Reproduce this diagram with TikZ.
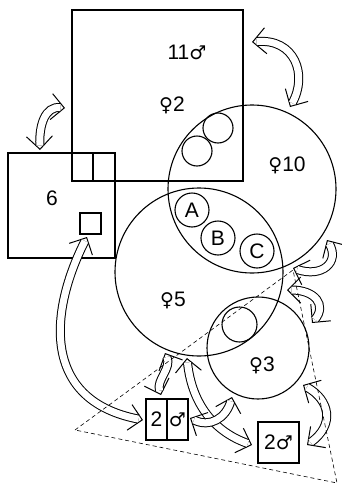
\documentclass[tikz,border=0pt]{standalone}
\usepackage{fontspec}
\setmainfont{Liberation Sans}
\newfontfamily\symf{DejaVu Sans}
\usetikzlibrary{arrows.meta}
\tikzset{
  shp/.style={draw, line width=1.1pt, inner sep=0pt, outer sep=0pt},
  lbl/.style={font=\fontsize{21}{24}\selectfont, inner sep=0pt},
  hshaft/.style={line width=1pt, double=white, double distance=7pt, shorten <=4.5pt, shorten >=4.5pt},
  htips/.style={line width=1pt, white,
     {Straight Barb[color=black,length=13pt,width=26pt]}-{Straight Barb[color=black,length=13pt,width=26pt]}},
  dline/.style={line width=0.6pt, dash pattern=on 4pt off 3pt}
}
\newcommand\hollowarr[1]{\draw[htips] #1; \draw[hshaft] #1;}
\newcommand\fem{{\symf\fontsize{19}{22}\selectfont ♀}}
\newcommand\mal{{\symf\fontsize{19}{22}\selectfont ♂}}
\begin{document}
\begin{tikzpicture}[x=1pt,y=-1pt]
\useasboundingbox (0,0) rectangle (341,485);
% boxes
\node[shp, minimum width=171pt, minimum height=171pt] (sq) at (157.5,95.5) {};
\node[shp, minimum width=107pt, minimum height=105pt] (b6) at (61.5,205.5) {};
\coordinate (dv1) at (93,153);
\coordinate (dv2) at (93,181);
\draw[line width=1.1pt] (dv1) -- (dv2);
\node[shp, minimum size=21pt] (sm) at (90.5,223.5) {};
% circles
\node[shp, circle, minimum size=168pt] (f10) at (252,189) {};
\node[shp, circle, minimum size=168pt] (f5) at (199,272) {};
\node[shp, circle, minimum size=102pt] (f3) at (258,348) {};
\node[shp, circle, minimum size=30pt] (c1) at (218,128) {};
\node[shp, circle, minimum size=30pt] (c2) at (197,151) {};
\node[shp, circle, minimum size=35pt] (c3) at (239.5,324.5) {};
\node[shp, circle, minimum size=34pt, lbl] (nA) at (192,210) {A};
\node[shp, circle, minimum size=34pt, lbl] (nB) at (218,238) {B};
\node[shp, circle, minimum size=34pt, lbl] (nC) at (257,251) {C};
% labels
\node[lbl] (t11) at (187,52) {11\mal};
\node[lbl] (t2) at (172,105) {\fem2};
\node[lbl] (t10) at (287,165) {\fem10};
\node[lbl] (t6) at (52,198) {6};
\node[lbl] (t5) at (173,300) {\fem5};
\node[lbl] (t3) at (262,365) {\fem3};
% small boxes
\node[shp, minimum width=42pt, minimum height=41pt] (bx1) at (167,419.5) {};
\draw[line width=1.1pt] (bx1.north) -- (bx1.south);
\node[lbl] (bx1a) at (156.5,419.5) {2};
\node[lbl] (bx1b) at (177.5,419.5) {\mal};
\node[shp, minimum width=41pt, minimum height=41pt, lbl] (bx2) at (278.5,442.5) {2\mal};
% arrows
\coordinate (a1s) at (252,42);  \coordinate (a1e) at (290,107);
\coordinate (a2s) at (65,108);  \coordinate (a2e) at (40,150);
\coordinate (ls) at (87,237);   \coordinate (le) at (143,420);
\coordinate (m1s) at (165,353); \coordinate (m1e) at (161,395);
\coordinate (m2s) at (187,358); \coordinate (m2e) at (252,445);
\coordinate (m3s) at (190,418); \coordinate (m3e) at (232,397);
\coordinate (r1s) at (293,268); \coordinate (r1e) at (327,240);
\coordinate (r2s) at (287,290); \coordinate (r2e) at (312,323);
\coordinate (r3s) at (303,385); \coordinate (r3e) at (307,445);
\hollowarr{(a1s) .. controls (295,38) and (308,75) .. (a1e)}
\hollowarr{(a2s) .. controls (45,106) and (39,125) .. (a2e)}
\hollowarr{(ls) .. controls (50,310) and (40,400) .. (le)}
\hollowarr{(m1s) .. controls (172,368) and (156,380) .. (m1e)}
\hollowarr{(m2s) .. controls (192,405) and (215,432) .. (m2e)}
\hollowarr{(m3s) .. controls (210,428) and (226,418) .. (m3e)}
\hollowarr{(r1s) .. controls (322,278) and (340,262) .. (r1e)}
\hollowarr{(r2s) .. controls (315,290) and (327,305) .. (r2e)}
\hollowarr{(r3s) .. controls (330,400) and (335,425) .. (r3e)}
% dashed triangle
\coordinate (d1) at (75,430);
\coordinate (d2) at (293,270);
\coordinate (d3) at (337,483);
\draw[dline] (d1) -- (d2) -- (d3) -- cycle;
\end{tikzpicture}
\end{document}
